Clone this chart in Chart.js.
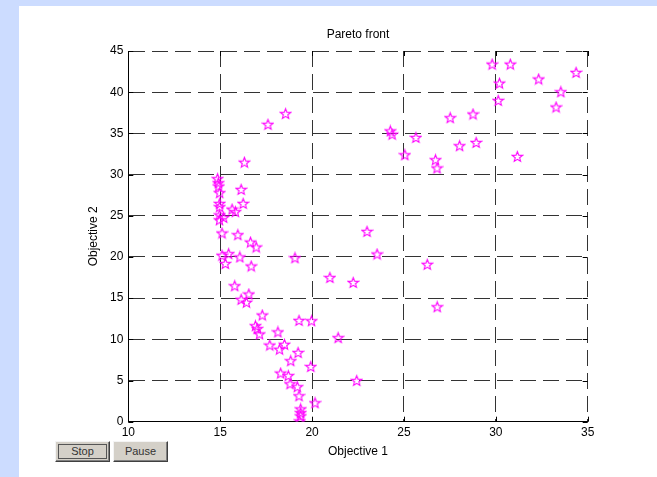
<!DOCTYPE html>
<html>
<head>
<meta charset="utf-8">
<script src="https://cdn.jsdelivr.net/npm/chart.js@4/dist/chart.umd.min.js"></script>
<style>
  html, body { margin: 0; padding: 0; }
  body { width: 657px; height: 477px; background: #ccdcff; position: relative; overflow: hidden; }
  #panel { position: absolute; left: 19px; top: 6px; width: 638px; height: 471px; background: #fff; }
  .btn {
    position: absolute; top: 441px; width: 55px; height: 21px; box-sizing: border-box;
    background: #d4d0c8; font: 11px "Liberation Sans", Arial, sans-serif; color: #333;
    border: 1px solid; border-color: #f4f4f4 #404040 #404040 #f4f4f4;
    box-shadow: inset -1px -1px #808080; padding: 0; z-index: 2;
  }
  .btn span { display: inline-block; padding: 0 8px; line-height: 13px; }
  #stop span { border: 1px solid #555; padding: 0 12px; }
</style>
</head>
<body>
<div id="panel"><canvas id="pareto" width="638" height="471"></canvas></div>
<button class="btn" id="stop" style="left:55px"><span>Stop</span></button>
<button class="btn" id="pause" style="left:113px"><span>Pause</span></button>
<script>
const objective1 = [
  18.56, 17.6, 16.32, 14.86, 14.92, 14.97, 16.14, 14.97, 14.97, 16.25,
  15.65, 15.83, 14.97, 15.19, 14.96, 15.1, 15.96, 16.65, 16.96, 15.1,
  15.46, 15.28, 16.07, 16.69, 19.07, 15.79, 16.56, 16.14, 16.43, 17.29,
  16.92, 17.02, 17.14, 18.14, 19.29, 19.97, 20.97, 22.24, 21.42, 17.7,
  18.23, 18.5, 19.24, 18.84, 19.93, 18.29, 18.71, 18.8, 19.2, 19.29,
  19.38, 19.38, 19.38, 19.33, 20.16, 22.43, 29.8, 30.79, 30.2, 32.33,
  34.37, 33.54, 30.13, 33.28, 27.52, 28.76, 24.26, 24.36, 25.65, 28.03,
  28.93, 25.05, 26.72, 26.8, 31.17, 22.99, 23.54, 26.27, 26.81, 14.9
];
const objective2 = [
  37.4, 36.1, 31.5, 29.5, 28.6, 27.8, 28.2, 26.5, 26.1, 26.5,
  25.8, 25.5, 25.1, 24.8, 24.5, 22.9, 22.7, 21.8, 21.2, 20.2,
  20.4, 19.2, 20.0, 18.9, 19.9, 16.5, 15.5, 14.85, 14.5, 12.95,
  11.65, 11.3, 10.65, 10.9, 12.3, 12.25, 17.5, 16.9, 10.2, 9.3,
  8.8, 9.4, 8.4, 7.4, 6.7, 5.9, 5.6, 4.6, 4.25, 3.15,
  1.55, 1.1, 0.7, 0.1, 2.3, 5.0, 43.4, 43.4, 41.1, 41.6,
  42.4, 40.05, 39.0, 38.2, 36.9, 37.35, 35.3, 34.9, 34.5, 33.5,
  33.9, 32.4, 31.8, 30.8, 32.2, 23.1, 20.35, 19.1, 13.95, 29.0
];
const xRange = [10, 35];
const yRange = [0, 45];

// magenta pentagram marker, like matlab 'p'
function starMarker() {
  const c = document.createElement("canvas");
  c.width = 13; c.height = 13;
  const g = c.getContext("2d");
  g.strokeStyle = "#ff00ff";
  g.lineWidth = 1.1;
  g.beginPath();
  for (let i = 0; i < 10; i++) {
    const r = i % 2 === 0 ? 5.4 : 2.3;
    const a = -Math.PI / 2 + i * Math.PI / 5;
    const px = 6.5 + r * Math.cos(a), py = 7 + r * Math.sin(a);
    if (i === 0) g.moveTo(px, py); else g.lineTo(px, py);
  }
  g.closePath();
  g.stroke();
  return c;
}

// small inward ticks on all four sides of the box
const boxTicks = {
  id: "boxTicks",
  afterDraw(chart) {
    const { ctx, chartArea: a, scales: { x, y } } = chart;
    ctx.save();
    ctx.strokeStyle = "#000";
    ctx.lineWidth = 1;
    ctx.beginPath();
    x.ticks.forEach(t => {
      const px = Math.round(x.getPixelForValue(t.value)) + 0.5;
      ctx.moveTo(px, a.bottom); ctx.lineTo(px, a.bottom - 5);
      ctx.moveTo(px, a.top); ctx.lineTo(px, a.top + 5);
    });
    y.ticks.forEach(t => {
      const py = Math.round(y.getPixelForValue(t.value)) + 0.5;
      ctx.moveTo(a.left, py); ctx.lineTo(a.left + 5, py);
      ctx.moveTo(a.right, py); ctx.lineTo(a.right - 5, py);
    });
    ctx.stroke();
    ctx.restore();
  }
};

const font = { family: "'Liberation Sans', Arial, sans-serif", size: 12 };

new Chart(document.getElementById("pareto"), {
  type: "scatter",
  data: {
    datasets: [{
      data: objective1.map((v, i) => ({ x: v, y: objective2[i] })),
      pointStyle: starMarker(),
      pointRadius: 6
    }]
  },
  options: {
    responsive: false,
    animation: false,
    layout: { padding: { left: 0, right: 69.3, top: 0, bottom: 0 } },
    plugins: {
      legend: { display: false },
      tooltip: { enabled: false },
      title: {
        display: true, text: "Pareto front", color: "#000", fullSize: false,
        font: { ...font, weight: "normal" }, padding: { top: 21.5, bottom: 9.1 }
      }
    },
    scales: {
      x: {
        type: "linear", min: xRange[0], max: xRange[1],
        afterFit: s => { s.height = 55.3; },
        ticks: { stepSize: 5, color: "#000", font, padding: 4, maxRotation: 0 },
        grid: { color: "#333", lineWidth: 1, drawTicks: false },
        border: { display: true, color: "#000", width: 1, dash: [16, 7] },
        title: { display: true, text: "Objective 1", color: "#000", font, padding: { top: 0, bottom: 17.8 } }
      },
      y: {
        type: "linear", min: yRange[0], max: yRange[1],
        afterFit: s => { s.width = 109.3; },
        ticks: { stepSize: 5, color: "#000", font, padding: 5 },
        grid: { color: "#333", lineWidth: 1, drawTicks: false },
        border: { display: true, color: "#000", width: 1, dash: [16, 7] },
        title: { display: true, text: "Objective 2", color: "#000", font, padding: { top: 67.8, bottom: 0 } }
      }
    }
  },
  plugins: [boxTicks]
});
</script>
</body>
</html>
